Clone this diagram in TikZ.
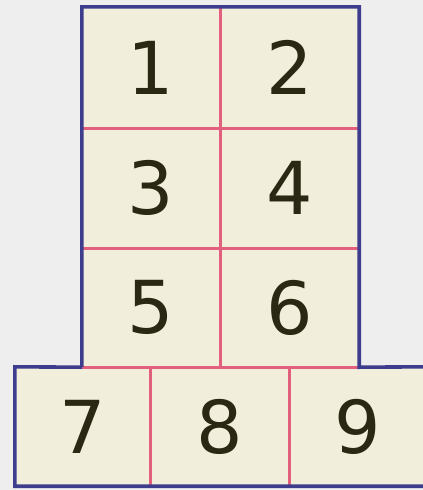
\documentclass[tikz,border=0pt]{standalone}
\usepackage{fontspec}
\setmainfont{DejaVu Sans}
\definecolor{bgc}{HTML}{EEEEEE}
\definecolor{cellc}{HTML}{F1EEDC}
\definecolor{bordc}{HTML}{3E3C8C}
\definecolor{gridc}{HTML}{E2607E}
\definecolor{txtc}{HTML}{2A2812}
\tikzset{
  cell/.style={fill=cellc, inner sep=0pt, text=txtc, font=\fontsize{73}{73}\selectfont},
  gridline/.style={draw=gridc, line width=2.6pt},
  border/.style={draw=bordc, line width=3.6pt, line join=miter}
}
\begin{document}
\begin{tikzpicture}[x=1pt,y=-1pt]
\useasboundingbox[fill=bgc] (0,0) rectangle (423,490);
\begin{scope}
\clip (0,0) rectangle (423,490);
% cells
\node[cell, minimum width=138pt, minimum height=121pt] (c1) at (151,67.5) {1};
\node[cell, minimum width=139pt, minimum height=121pt] (c2) at (289.5,67.5) {2};
\node[cell, minimum width=138pt, minimum height=120pt] (c3) at (151,188) {3};
\node[cell, minimum width=139pt, minimum height=120pt] (c4) at (289.5,188) {4};
\node[cell, minimum width=138pt, minimum height=119pt] (c5) at (151,307.5) {5};
\node[cell, minimum width=139pt, minimum height=119pt] (c6) at (289.5,307.5) {6};
\node[cell, minimum width=135pt, minimum height=119pt] (c7) at (82.5,426.5) {7};
\node[cell, minimum width=139pt, minimum height=119pt] (c8) at (219.5,426.5) {8};
\node[cell, minimum width=137pt, minimum height=119pt] (c9) at (357.5,426.5) {9};
% inner grid lines
\draw[gridline] (c1.north east) -- (c5.south east);
\draw[gridline] (c1.south west) -- (c2.south east);
\draw[gridline] (c3.south west) -- (c4.south east);
\draw[gridline] (c5.south west) -- (c6.south east);
\draw[gridline] (c7.north east) -- (c7.south east);
\draw[gridline] (c8.north east) -- (c8.south east);
% outer border
\draw[border] (c5.south west) -- (c1.north west) -- (c2.north east) -- (c6.south east) -- (c9.north east);
\draw[border] (c5.south west) -- (c7.north west) -- (c7.south west) -- (c9.south east);
\end{scope}
\end{tikzpicture}
\end{document}
